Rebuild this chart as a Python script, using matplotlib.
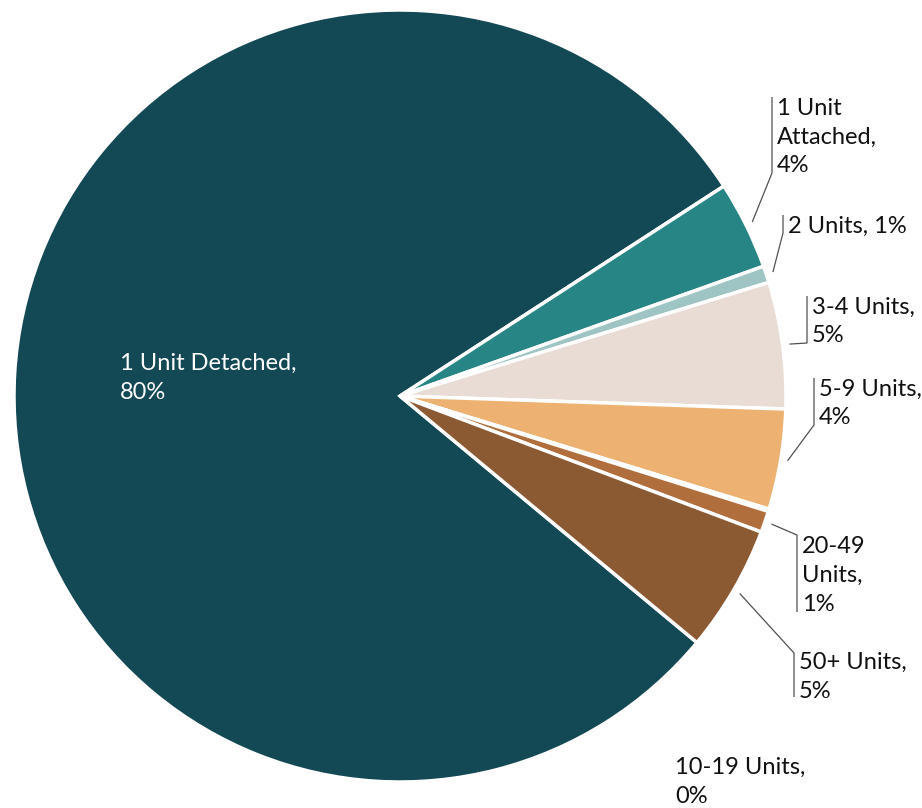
import numpy as np
import matplotlib.pyplot as plt

# housing units by structure type (share, %)
categories = ['1 Unit Detached', '1 Unit Attached', '2 Units', '3-4 Units',
              '5-9 Units', '10-19 Units', '20-49 Units', '50+ Units']
shares = [79.9, 3.7, 0.7, 5.3, 4.2, 0.1, 0.9, 5.3]
label_texts = ['1 Unit Detached,\n80%', '1 Unit\nAttached,\n4%', '2 Units, 1%',
               '3-4 Units,\n5%', '5-9 Units,\n4%', '10-19 Units,\n0%',
               '20-49\nUnits,\n1%', '50+ Units,\n5%']
colors = ['#134855', '#288585', '#9ec5c3', '#e8dcd4',
          '#edb271', '#c98a4e', '#b06e3c', '#8b5a32']

W, H = 922, 808
plt.rcParams['font.family'] = ['Lato', 'DejaVu Sans']
FS = 17
LS = 1.47

fig = plt.figure(figsize=(W / 100, H / 100), dpi=100)
ax = fig.add_axes([0, 0, 1, 1])

cx, cy, R = 400, H - 396, 386
wedges, _ = ax.pie(shares, colors=colors, center=(cx, cy), radius=R,
                   startangle=-39.7, counterclock=False,
                   wedgeprops=dict(edgecolor='white', linewidth=2.5))
ax.set_xlim(0, W)
ax.set_ylim(0, H)
ax.set_aspect('equal')
ax.axis('off')

# leader layout in pixels (from top): elbow x, elbow y, far end y ; None = no leader
leaders = [None, (772, 173, 97), (783, 233, 215), (807, 343, 296),
           (814, 425, 378), None, (797, 535, 612), (794, 653, 697)]

for i, (w, txt, ld) in enumerate(zip(wedges, label_texts, leaders)):
    if ld is None:
        continue
    mid = np.deg2rad((w.theta1 + w.theta2) / 2)
    sx = cx + R * 1.018 * np.cos(mid)
    sy = cy + R * 1.018 * np.sin(mid)
    ex, ey, ty = ld
    ax.plot([sx, ex, ex], [sy, H - ey, H - ty], color='#505050', lw=0.9,
            solid_capstyle='butt')
    ymid = H - (ey + ty) / 2 - 2
    ax.text(ex + 5, ymid, txt, ha='left', va='center', fontsize=FS,
            color='#111111', linespacing=LS)

ax.text(120, H - 378, label_texts[0], ha='left', va='center', fontsize=FS,
        color='white', linespacing=LS)
ax.text(675, H - 782, label_texts[5], ha='left', va='center', fontsize=FS,
        color='#111111', linespacing=LS)

fig.savefig('out.png', dpi=100)
